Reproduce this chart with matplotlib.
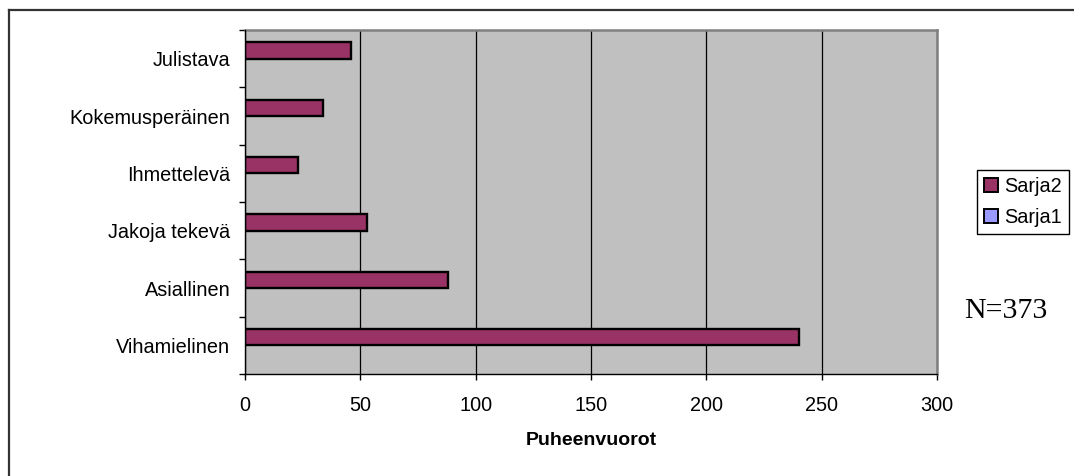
import numpy as np
import matplotlib.pyplot as plt
from matplotlib.lines import Line2D
from matplotlib.patches import Patch

# data (bottom to top, as in the chart)
categories = ["Vihamielinen", "Asiallinen", "Jakoja tekevä", "Ihmettelevä",
              "Kokemusperäinen", "Julistava"]
sarja2 = [240, 88, 53, 23, 34, 46]
sarja1 = [0, 0, 0, 0, 0, 0]
x_ticks = [0, 50, 100, 150, 200, 250, 300]

plt.rcParams["font.family"] = ["Liberation Sans", "DejaVu Sans"]

fig = plt.figure(figsize=(10.74, 4.76), dpi=100)
ax = fig.add_axes([245 / 1074, 1 - 374 / 476, (937 - 245) / 1074, (374 - 30) / 476])
ax.set_facecolor("#C0C0C0")

y = np.arange(len(categories))
bar_h = 1 / 3.5
ax.barh(y + bar_h / 2, sarja2, height=bar_h, color="#993366",
        edgecolor="black", linewidth=1.7, zorder=3)
ax.barh(y - bar_h / 2, sarja1, height=bar_h, color="#9999FF",
        edgecolor="none", linewidth=0, zorder=3)

ax.set_xlim(0, 300)
ax.set_ylim(-0.5, len(categories) - 0.5)
ax.set_xticks(x_ticks)
ax.set_xticklabels([str(v) for v in x_ticks], fontsize=14.3)
ax.tick_params(axis="x", direction="out", length=4, width=1, pad=12)

# category boundaries as major ticks, labels on minor ticks
ax.set_yticks(np.arange(-0.5, len(categories), 1.0))
ax.set_yticklabels([])
ax.set_yticks(y, minor=True)
ax.set_yticklabels(categories, minor=True, fontsize=14.3)
ax.tick_params(axis="y", which="major", direction="out", length=4, width=1)
ax.tick_params(axis="y", which="minor", length=0, pad=10.5)

ax.grid(True, axis="x", color="black", linewidth=0.9, zorder=1)
ax.set_axisbelow(True)

for side in ["left", "bottom"]:
    ax.spines[side].set_color("black")
    ax.spines[side].set_linewidth(1.0)
    ax.spines[side].set_zorder(4)
for side in ["top", "right"]:
    ax.spines[side].set_color("#808080")
    ax.spines[side].set_linewidth(1.8)

ax.set_xlabel("Puheenvuorot", fontsize=14, fontweight="bold", labelpad=12)
ax.set_ylabel("Tyylilajit", fontsize=14, fontweight="bold")
ax.yaxis.label.set_transform(fig.transFigure)
ax.yaxis.label.set_position((45 / 1074, 1 - 200 / 476))

# legend
handles = [Patch(facecolor="#993366", edgecolor="black", linewidth=1.4),
           Patch(facecolor="#9999FF", edgecolor="black", linewidth=1.4)]
leg = fig.legend(handles, ["Sarja2", "Sarja1"], loc="upper left",
                 bbox_to_anchor=(977 / 1074, 1 - 170 / 476), fontsize=14.3,
                 fancybox=False, framealpha=1, edgecolor="black",
                 handlelength=0.7, handleheight=0.7, handletextpad=0.3,
                 borderpad=0.35, labelspacing=0.6, borderaxespad=0)
leg.get_frame().set_linewidth(1.0)

fig.text(1006 / 1074, 1 - 311 / 476, "N=373", fontsize=21.5,
         family=["Liberation Serif", "DejaVu Serif"], ha="center", va="center")

# outer chart border (left and top visible)
fig.add_artist(Line2D([9 / 1074, 9 / 1074], [0, 1 - 10 / 476],
                      transform=fig.transFigure, color="#333333", linewidth=1.6))
fig.add_artist(Line2D([9 / 1074, 1], [1 - 10 / 476, 1 - 10 / 476],
                      transform=fig.transFigure, color="#333333", linewidth=1.6))

fig.savefig("out.png", dpi=100)
